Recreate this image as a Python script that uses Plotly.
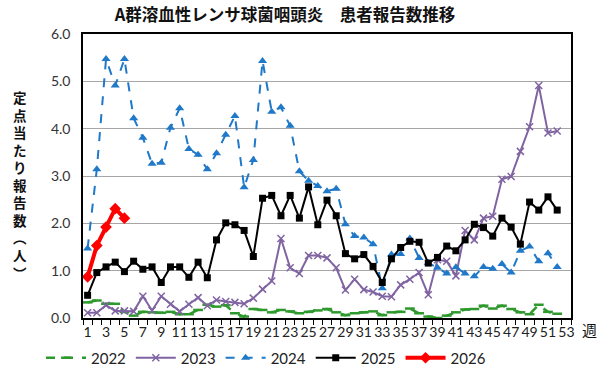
import plotly.graph_objects as go

weeks = list(range(1, 54))
tick_vals = list(range(1, 54, 2))
tick_text = [str(v) for v in tick_vals]

y2022 = [0.33, 0.37, 0.30, 0.30, 0.13, 0.05, 0.13, 0.12, 0.11, 0.13, 0.08, 0.08, 0.17, 0.28, 0.24, 0.27,
         0.10, 0.03, 0.19, 0.17, 0.12, 0.17, 0.14, 0.10, 0.13, 0.16, 0.19, 0.12, 0.06, 0.10, 0.12, 0.14,
         0.06, 0.12, 0.13, 0.20, 0.10, 0.03, 0.00, 0.05, 0.12, 0.18, 0.19, 0.26, 0.20, 0.26, 0.19, 0.12,
         0.08, 0.28, 0.13, 0.09]
y2023 = [0.11, 0.11, 0.27, 0.15, 0.15, 0.14, 0.46, 0.16, 0.46, 0.29, 0.14, 0.29, 0.43, 0.26, 0.38, 0.35,
         0.33, 0.30, 0.42, 0.61, 0.78, 1.68, 1.06, 0.94, 1.32, 1.32, 1.27, 1.06, 0.59, 0.82, 0.60, 0.55,
         0.46, 0.45, 0.70, 0.82, 0.96, 0.49, 1.23, 1.20, 0.89, 1.85, 1.65, 2.11, 2.15, 2.93, 2.99, 3.52,
         4.04, 4.91, 3.91, 3.95]
y2024 = [1.47, 3.14, 5.47, 4.91, 5.47, 4.22, 3.81, 3.26, 3.28, 4.02, 4.43, 3.57, 3.45, 3.14, 3.48, 3.87,
         4.27, 2.76, 3.34, 5.43, 4.36, 4.45, 4.06, 3.10, 2.90, 2.79, 2.68, 2.73, 1.98, 1.73, 1.70, 1.56,
         0.63, 1.34, 1.35, 1.68, 1.27, 1.16, 1.06, 0.94, 1.07, 0.94, 0.88, 1.08, 1.04, 1.14, 0.96, 1.42,
         1.51, 1.20, 1.37, 1.08]
y2025 = [0.48, 0.96, 1.08, 1.18, 0.98, 1.20, 1.03, 1.08, 0.75, 1.08, 1.08, 0.86, 1.18, 0.85, 1.65, 2.01,
         1.97, 1.85, 1.30, 2.53, 2.59, 2.16, 2.59, 2.11, 2.77, 1.97, 2.49, 2.16, 1.36, 1.25, 1.34, 1.09,
         0.75, 1.25, 1.49, 1.62, 1.60, 1.16, 1.28, 1.52, 1.42, 1.65, 1.98, 1.91, 1.73, 2.11, 1.92, 1.56,
         2.45, 2.28, 2.56, 2.28]
y2026 = [0.87, 1.53, 1.92, 2.31, 2.11]

ylabel_chars = list("定点当たり報告数") + ["︵", "人", "︶"]

num_font = "Lato, 'Liberation Sans', sans-serif"
jp_font = "'Noto Sans CJK JP', sans-serif"

W, H = 600, 387
ML, MR, MT, MB = 83, 29, 34, 62
PW, PH = W - ML - MR, H - MT - MB


def px_to_paper_x(px):
    return (px - ML) / PW


def px_to_paper_y(py):
    return (H - MB - py) / PH


fig = go.Figure()
fig.add_trace(go.Scatter(
    x=weeks[:len(y2022)], y=y2022, name="2022", mode="lines+markers",
    line=dict(color="#2E9A2E", width=2.5, dash="dash"),
    marker=dict(symbol="line-ew", size=7, color="#2E9A2E", line=dict(color="#2E9A2E", width=2.5))))
fig.add_trace(go.Scatter(
    x=weeks[:len(y2023)], y=y2023, name="2023", mode="lines+markers",
    line=dict(color="#8064A2", width=2),
    marker=dict(symbol="x-thin", size=7, color="#8064A2", line=dict(color="#8064A2", width=1.5))))
fig.add_trace(go.Scatter(
    x=weeks[:len(y2024)], y=y2024, name="2024", mode="lines+markers",
    line=dict(color="#1F78C8", width=2, dash="dash"),
    marker=dict(symbol="triangle-up", size=8, color="#1F78C8")))
fig.add_trace(go.Scatter(
    x=weeks[:len(y2025)], y=y2025, name="2025", mode="lines+markers",
    line=dict(color="#000000", width=2),
    marker=dict(symbol="square", size=7, color="#000000")))
fig.add_trace(go.Scatter(
    x=weeks[:len(y2026)], y=y2026, name="2026", mode="lines+markers",
    line=dict(color="#FF0000", width=4),
    marker=dict(symbol="diamond", size=9, color="#FF0000")))

fig.update_layout(
    width=W, height=H,
    margin=dict(l=ML, r=MR, t=MT, b=MB),
    paper_bgcolor="white", plot_bgcolor="white",
    showlegend=True,
    legend=dict(orientation="h", x=0.375, xanchor="center", y=px_to_paper_y(366), yanchor="middle",
                font=dict(family=num_font, size=15, color="#222222"),
                itemwidth=40, tracegroupgap=0),
    title=dict(text="<b>A群溶血性レンサ球菌咽頭炎　患者報告数推移</b>",
               x=285 / W, xanchor="center", y=1 - 15 / H, yanchor="middle",
               font=dict(family=jp_font, size=16.5, color="#111111")),
    xaxis=dict(range=[0.5, 53.5], tickmode="array", tickvals=tick_vals, ticktext=tick_text,
               automargin=False,
               showgrid=False, zeroline=False, showline=True, mirror=True,
               linecolor="#000000", linewidth=1.5, ticks="",
               minor=dict(ticks="outside", tick0=0.5, dtick=1, ticklen=5, tickcolor="#000000", showgrid=False),
               tickfont=dict(family=num_font, size=14, color="#222222")),
    yaxis=dict(range=[0, 6], dtick=1, tickformat=".1f", showgrid=True, gridcolor="#A6A6A6", gridwidth=1.2,
               automargin=False,
               zeroline=False, showline=True, mirror=True, linecolor="#000000", linewidth=1.5,
               ticks="", ticklabelstandoff=8,
               tickfont=dict(family=num_font, size=14, color="#333333")),
)

# vertical, stacked y-axis title (one character per line)
fig.add_annotation(text="<b>" + "<br>".join(ylabel_chars) + "</b>", xref="paper", yref="paper",
                   x=px_to_paper_x(20), y=px_to_paper_y(189),
                   xanchor="center", yanchor="middle", showarrow=False, align="center",
                   font=dict(family=jp_font, size=13.5, color="#111111"))

fig.add_annotation(text="週", xref="paper", yref="paper", x=px_to_paper_x(589), y=px_to_paper_y(337),
                   xanchor="center", yanchor="middle", showarrow=False,
                   font=dict(family=jp_font, size=15, color="#111111"))

fig.write_html("out.html", config={"displayModeBar": False},
               post_script="document.body.style.margin='0';document.body.style.overflow='hidden';")
